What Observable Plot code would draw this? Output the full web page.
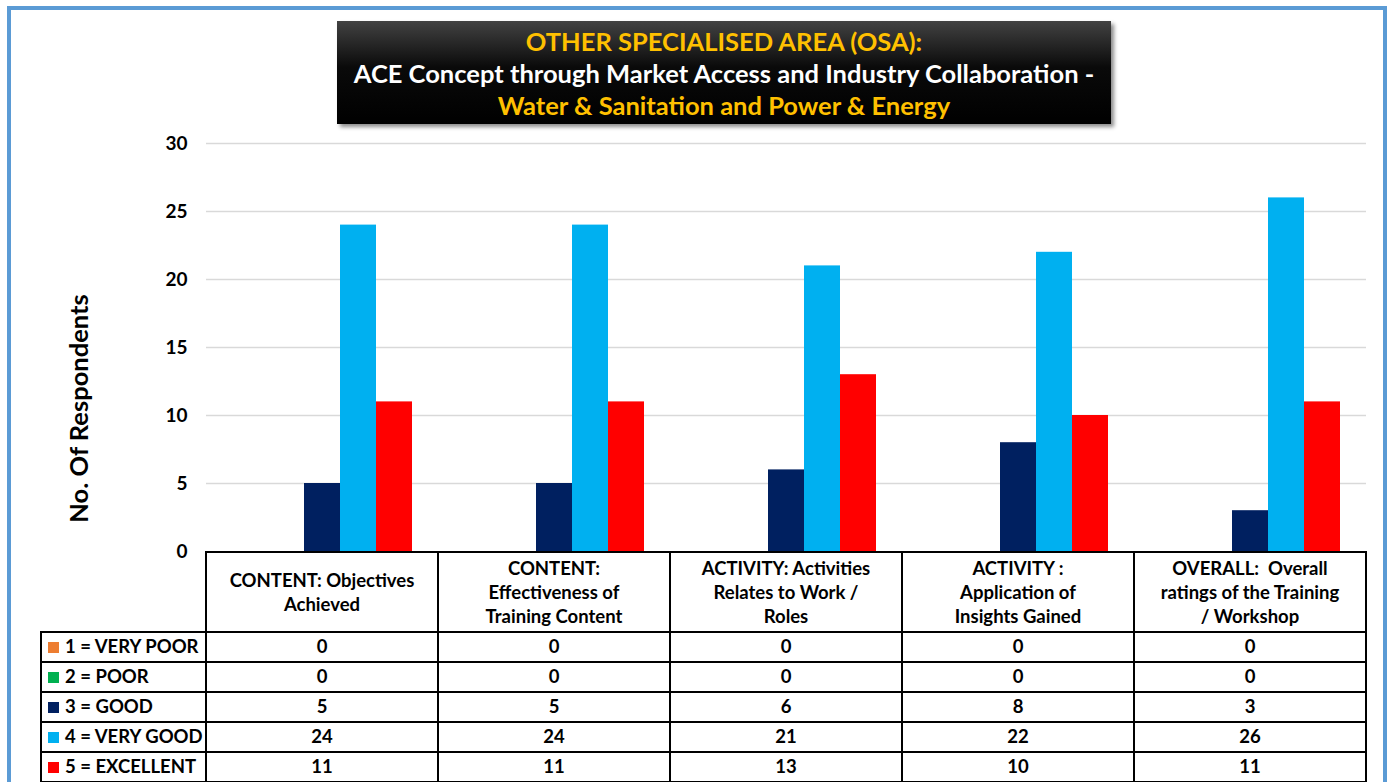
<!DOCTYPE html>
<html>
<head>
<meta charset="utf-8">
<script src="https://cdn.jsdelivr.net/npm/d3@7"></script>
<script src="https://cdn.jsdelivr.net/npm/@observablehq/plot@0.6"></script>
<style>
  html, body { margin: 0; padding: 0; background: #fff; }
  #root { position: relative; width: 1392px; height: 782px; overflow: hidden; background: #fff; font-family: Lato, "Open Sans", sans-serif; }
  #frame { position: absolute; left: 7px; top: 6px; width: 1372px; height: 820px; border: 4px solid #5B9BD5; box-sizing: content-box; }
  #chart { position: absolute; left: 0; top: 0; }
  #title { position: absolute; left: 337px; top: 21px; width: 774px; height: 103px;
    background: linear-gradient(to bottom, #424242 0%, #0a0a0a 45%, #000 100%);
    box-shadow: 3px 3px 4px rgba(0,0,0,0.45);
    color: #fff; font-weight: 700; font-size: 25.5px; text-align: center; line-height: 32px; padding-top: 4px; box-sizing: border-box; white-space: nowrap; }
  #title .gold { color: #FFC000; }
  #tbl { position: absolute; left: 40px; top: 551px; border-collapse: collapse; table-layout: fixed; font-weight: 700; color: #000; }
  #tbl td { border: 2px solid #000; text-align: center; padding: 0; font-size: 18.5px; }
  #tbl tr.head td { height: 78px; line-height: 24px; white-space: pre-wrap; vertical-align: middle; }
  #tbl tr.head td.blank { border-top: none; border-left: none; border-bottom: 2px solid #000; }
  #tbl tr.row td { height: 26px; line-height: 24px; padding-bottom: 2px; }
  #tbl td.lab { text-align: left; padding-left: 6px; white-space: nowrap; }
  #tbl .sw { display: inline-block; width: 11px; height: 11px; margin-right: 6px; vertical-align: 0px; }
</style>
</head>
<body>
<div id="root">
  <div id="frame"></div>
  <div id="chart"></div>
  <div id="title">
    <div class="gold">OTHER SPECIALISED AREA (OSA):</div>
    <div>ACE Concept through Market Access and Industry Collaboration -</div>
    <div class="gold">Water &amp; Sanitation and Power &amp; Energy</div>
  </div>
  <table id="tbl"></table>
</div>
<script>
// ---- data ----
const categories = [
  "CONTENT: Objectives\nAchieved",
  "CONTENT:\nEffectiveness of\nTraining Content",
  "ACTIVITY: Activities\nRelates to Work /\nRoles",
  "ACTIVITY :\nApplication of\nInsights Gained",
  "OVERALL:  Overall\nratings of the Training\n/ Workshop"
];
const series = ["1 = VERY POOR", "2 = POOR", "3 = GOOD", "4 = VERY GOOD", "5 = EXCELLENT"];
const veryPoor  = [0, 0, 0, 0, 0];
const poor      = [0, 0, 0, 0, 0];
const good      = [5, 5, 6, 8, 3];
const veryGood  = [24, 24, 21, 22, 26];
const excellent = [11, 11, 13, 10, 11];
const seriesColors = ["#ED7D31", "#00B050", "#002060", "#00B0F0", "#FF0000"];
const yTicks = [0, 5, 10, 15, 20, 25, 30];
const yLabel = "No. Of Respondents";

const values = [veryPoor, poor, good, veryGood, excellent];
const data = [];
categories.forEach((c, i) => series.forEach((s, j) => data.push({category: c, series: s, value: values[j][i]})));

const chart = Plot.plot({
  width: 1392,
  height: 600,
  marginLeft: 205,
  marginRight: 26,
  marginTop: 143,
  marginBottom: 49,
  style: {fontFamily: "Lato, 'Open Sans', sans-serif", background: "transparent"},
  fx: {domain: categories, padding: 0, axis: null},
  x: {domain: series, paddingInner: 0, paddingOuter: 26 / 36, axis: null},
  y: {domain: [0, 30]},
  color: {domain: series, range: seriesColors},
  marks: [
    Plot.gridY(yTicks.filter(d => d > 0), {stroke: "#d9d9d9", strokeOpacity: 1, strokeWidth: 1.5}),
    Plot.axisY(yTicks, {tickSize: 0, tickPadding: 19, label: null, fontSize: 19, fontWeight: 700, fill: "#000"}),
    Plot.barY(data, {fx: "category", x: "series", y: "value", fill: "series"}),
    Plot.text([{fx: categories[0], t: yLabel}], {fx: "fx", text: "t", frameAnchor: "left", textAnchor: "middle", rotate: -90, dx: -127, dy: 61, fontSize: 25.5, fontWeight: 700, fill: "#000"})
  ]
});
document.getElementById("chart").appendChild(chart);

// ---- data table ----
const tbl = document.getElementById("tbl");
const colgroup = document.createElement("colgroup");
[165, 232, 232, 232, 232, 232].forEach(w => { const c = document.createElement("col"); c.style.width = w + "px"; colgroup.appendChild(c); });
tbl.appendChild(colgroup);
const head = document.createElement("tr");
head.className = "head";
const blank = document.createElement("td"); blank.className = "blank"; head.appendChild(blank);
categories.forEach(c => { const td = document.createElement("td"); td.textContent = c; head.appendChild(td); });
tbl.appendChild(head);
series.forEach((s, j) => {
  const tr = document.createElement("tr"); tr.className = "row";
  const lab = document.createElement("td"); lab.className = "lab";
  const sw = document.createElement("span"); sw.className = "sw"; sw.style.background = seriesColors[j];
  lab.appendChild(sw); lab.appendChild(document.createTextNode(s));
  tr.appendChild(lab);
  values[j].forEach(v => { const td = document.createElement("td"); td.textContent = v; tr.appendChild(td); });
  tbl.appendChild(tr);
});
</script>
</body>
</html>
